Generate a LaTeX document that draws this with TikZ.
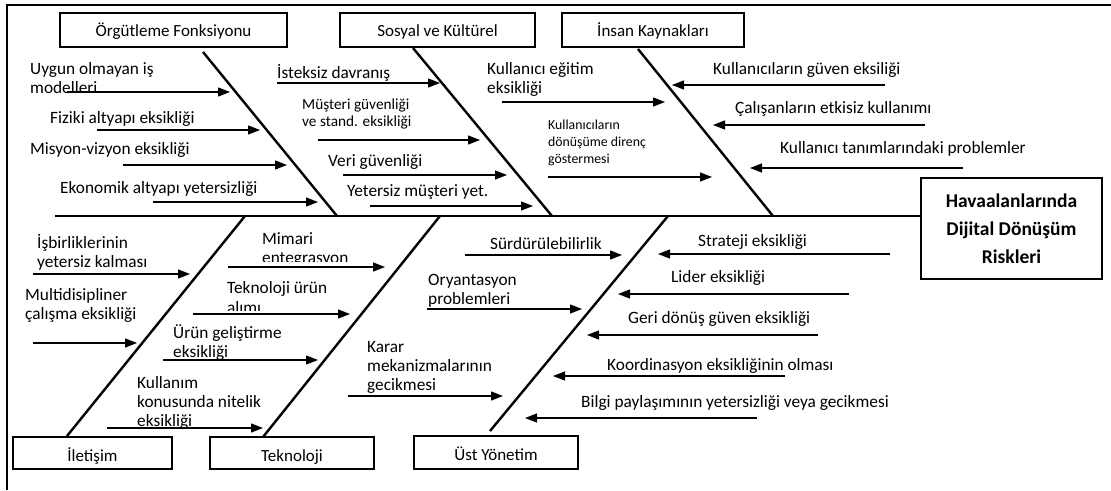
\documentclass[tikz,border=0pt]{standalone}
\usepackage{fontspec}
\setmainfont{Carlito}
\usetikzlibrary{arrows.meta}
\begin{document}
\begin{tikzpicture}[x=1pt,y=-1pt,
  cat/.style={draw,line width=1.9pt,inner sep=0pt,text height=13pt,text depth=0pt,font=\fontsize{17}{19}\selectfont},
  catb/.style={cat,text height=16pt},
  lbl/.style={inner sep=0pt,align=left,anchor=north west,yshift=-2pt,font=\fontsize{17.3}{19}\selectfont},
  sml/.style={inner sep=0pt,align=left,anchor=north west,yshift=-2pt,font=\fontsize{15.3}{17}\selectfont},
  smlr/.style={inner sep=0pt,align=left,anchor=north west,yshift=-2pt,font=\fontsize{13.8}{17}\selectfont},
  bone/.style={line width=2.4pt},
  arr/.style={line width=1.3pt,-{Triangle[length=12pt,width=9pt]}}]
\useasboundingbox (0,0) rectangle (1111,490);
% frame
\coordinate (fbl) at (7,490); \coordinate (ftl) at (7,5); \coordinate (ftr) at (1111,5);
\draw[line width=1.8pt] (fbl) -- (ftl) -- (ftr);
% category boxes
\node[cat,minimum width=227pt,minimum height=34pt] (org) at (173.5,30) {Örgütleme Fonksiyonu};
\node[cat,minimum width=195pt,minimum height=34pt] (sos) at (437.5,30) {Sosyal ve Kültürel};
\node[cat,minimum width=182pt,minimum height=34pt] (ins) at (653,30) {İnsan Kaynakları};
\node[catb,minimum width=159pt,minimum height=32pt] (ilt) at (92.5,453) {İletişim};
\node[catb,minimum width=164pt,minimum height=32pt] (tek) at (292,453) {Teknoloji};
\node[catb,minimum width=164pt,minimum height=33pt] (ust) at (496,452.5) {Üst Yönetim};
\node[draw,line width=1.9pt,inner sep=0pt,minimum width=181pt,minimum height=101pt,align=center,
      font=\fontsize{19.5}{28}\selectfont\bfseries] (head) at (1011.5,228.5)
      {Havaalanlarında\\Dijital Dönüşüm\\Riskleri};
% spine
\coordinate (spL) at (55,216);
\draw[bone] (spL) -- (spL -| head.west);
% bones
\coordinate (b1t) at (203,52);  \coordinate (b1b) at (337,216);
\coordinate (b2t) at (413,48);  \coordinate (b2b) at (552,216);
\coordinate (b3t) at (638,49);  \coordinate (b3b) at (773,216);
\coordinate (b4t) at (245,216); \coordinate (b4b) at (67,436);
\coordinate (b5t) at (440,216); \coordinate (b5b) at (263,437);
\coordinate (b6t) at (668,216); \coordinate (b6b) at (490,431);
\foreach \b in {b1,b2,b3,b4,b5,b6} \draw[bone] (\b t) -- (\b b);
% arrows
\foreach \n/\xs/\xe/\y in {
  a1/67/230/92, a2/97/260/130, a3/123/287/165, a4/153/318/202,
  a5/277/440/83, a6/318/480/140, a7/343/507/175, a8/370/533/206,
  a9/502/665/102, a10/548/712/177,
  a11/885/672/85, a12/925/713/125, a13/963/750/168,
  a14/33/190/274, a15/33/137/343,
  a16/228/385/267, a17/193/350/314, a18/163/318/360, a19/107/263/428,
  a20/465/622/255, a21/427/582/309, a22/348/503/396,
  a23/890/658/254, a24/849/618/294, a25/818/587/335, a26/785/553/376, a27/757/525/418}
{
  \coordinate (\n s) at (\xs,\y);
  \coordinate (\n e) at (\xe,\y);
  \draw[arr] (\n s) -- (\n e);
}
% labels
\node[lbl] (t1) at (30,60) {Uygun olmayan iş\\modelleri};
\node[lbl] (t2) at (50,109) {Fiziki altyapı eksikliği};
\node[lbl] (t3) at (30,140) {Misyon-vizyon eksikliği};
\node[lbl] (t4) at (60,179) {Ekonomik altyapı yetersizliği};
\node[lbl] (t5) at (277,62) {İsteksiz davranış};
\node[sml] (t6) at (302,97) {Müşteri güvenliği\\ve stand. eksikliği};
\node[lbl] (t7) at (328,152) {Veri güvenliği};
\node[lbl] (t8) at (347,182) {Yetersiz müşteri yet.};
\node[lbl] (t9) at (487,60) {Kullanıcı eğitim\\eksikliği};
\node[smlr] (t10) at (548,118) {Kullanıcıların\\dönüşüme direnç\\göstermesi};
\node[lbl] (t11) at (713,60) {Kullanıcıların güven eksiliği};
\node[lbl] (t12) at (735,99) {Çalışanların etkisiz kullanımı};
\node[lbl] (t13) at (780,139) {Kullanıcı tanımlarındaki problemler};
\node[lbl] (t14) at (37,232) {İşbirliklerinin\\yetersiz kalması};
\node[lbl] (t15) at (25,286) {Multidisipliner\\çalışma eksikliği};
\begin{scope}
  \clip (250,220) rectangle (400,261);
  \node[lbl] (t16) at (262,230) {Mimari\\entegrasyon};
\end{scope}
\begin{scope}
  \clip (215,270) rectangle (360,310);
  \node[lbl,font=\fontsize{17.3}{20}\selectfont] (t17) at (227,279) {Teknoloji ürün\\alımı};
\end{scope}
\node[lbl] (t18) at (173,322) {Ürün geliştirme\\eksikliği};
\node[lbl] (t19) at (137,374) {Kullanım\\konusunda nitelik\\eksikliği};
\node[lbl] (t20) at (490,235) {Sürdürülebilirlik};
\node[lbl] (t21) at (428,272) {Oryantasyon\\problemleri};
\node[lbl] (t22) at (367,339) {Karar\\mekanizmalarının\\gecikmesi};
\node[lbl] (t23) at (698,232) {Strateji eksikliği};
\node[lbl] (t24) at (671,268) {Lider eksikliği};
\node[lbl] (t25) at (628,309) {Geri dönüş güven eksikliği};
\node[lbl] (t26) at (607,356) {Koordinasyon eksikliğinin olması};
\node[lbl] (t27) at (581,393) {Bilgi paylaşımının yetersizliği veya gecikmesi};
\end{tikzpicture}
\end{document}
